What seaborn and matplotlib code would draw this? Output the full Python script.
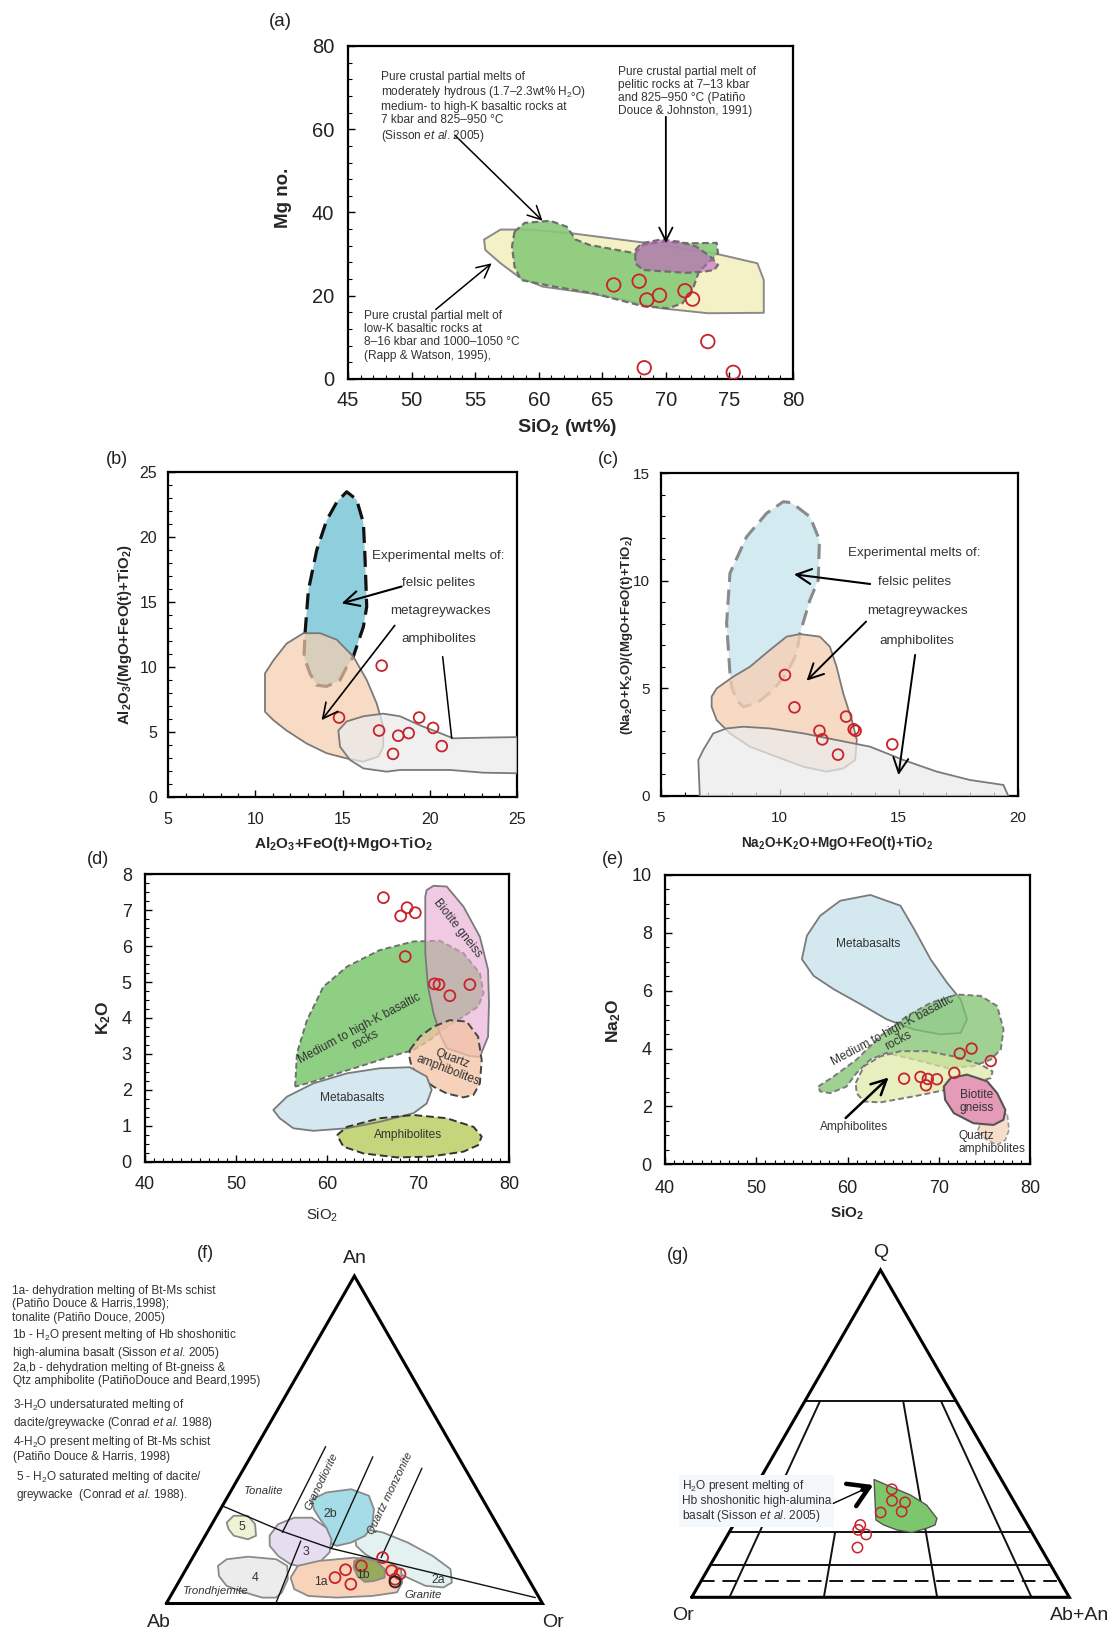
import numpy as np
import matplotlib
matplotlib.use("Agg")
import matplotlib.pyplot as plt
import seaborn as sns
from matplotlib.ticker import MultipleLocator

# ======================= DATA =======================
# (a) Mg no. vs SiO2
a_sio2 = [65.9, 67.9, 68.5, 69.5, 71.5, 72.1, 73.3, 68.3, 75.3]
a_mgno = [22.6, 23.5, 19.0, 20.1, 21.2, 19.2, 9.0, 2.7, 1.6]
a_lowk_x = [55.7, 57.0, 59.2, 62.6, 68.2, 73.8, 77.2, 77.7, 77.7, 73.3, 69.6, 66.8, 64.0, 60.3, 58.4, 57.0, 55.8]
a_lowk_y = [33.5, 35.9, 35.9, 35.0, 32.8, 30.2, 27.8, 23.8, 15.9, 15.8, 17.0, 19.0, 20.6, 22.2, 24.6, 27.8, 31.0]
a_medk_x = [58.1, 58.9, 60.9, 62.2, 62.9, 64.0, 67.6, 68.2, 69.6, 71.9, 74.0, 74.1, 73.3, 72.6, 72.1, 71.3,
            70.2, 68.2, 66.8, 64.3, 61.2, 58.6, 58.1, 57.9]
a_medk_y = [35.4, 37.5, 38.0, 36.6, 33.5, 32.2, 30.2, 32.2, 33.0, 32.6, 32.7, 30.2, 27.8, 25.8, 21.4, 18.2,
            17.0, 17.5, 18.6, 20.6, 22.2, 23.8, 27.0, 31.8]
a_pel_x = [67.6, 68.1, 69.6, 71.0, 72.4, 73.5, 74.1, 73.8, 73.0, 71.6, 68.2, 67.6]
a_pel_y = [31.0, 32.6, 33.5, 33.0, 31.8, 29.4, 27.4, 26.2, 25.8, 25.5, 26.2, 27.8]

# (b) Al2O3/(MgO+FeO+TiO2) vs Al2O3+FeO+MgO+TiO2
b_x = [17.25, 14.8, 17.1, 18.2, 18.8, 17.9, 19.4, 20.2, 20.7]
b_y = [10.1, 6.1, 5.1, 4.7, 4.9, 3.3, 6.1, 5.3, 3.9]
b_pel_x = [12.85, 13.04, 13.52, 14.09, 14.67, 15.24, 15.81, 16.2, 16.29, 16.39, 16.2, 15.62, 15.24, 14.86,
           14.09, 13.52, 13.13, 12.79]
b_pel_y = [12.6, 15.9, 19.0, 21.3, 22.7, 23.5, 22.9, 21.1, 18.5, 14.65, 13.1, 10.8, 10.0, 9.0, 8.5, 8.6, 9.5, 10.8]
b_grw_x = [10.55, 10.55, 11.03, 11.79, 12.75, 13.71, 14.67, 15.62, 16.39, 16.96, 17.34, 17.34, 17.06, 16.2,
           15.24, 14.09, 12.94, 11.79, 11.03]
b_grw_y = [6.55, 9.5, 10.5, 11.8, 12.6, 12.6, 12.1, 10.8, 9.0, 7.2, 5.4, 3.85, 3.1, 2.7, 2.95, 3.35, 4.1, 5.1, 5.9]
b_amp_x = [14.76, 15.24, 16.2, 17.34, 18.3, 19.45, 20.41, 21.36, 23.09, 25.3, 25.3, 23.09, 21.17, 18.3, 17.54,
           16.2, 15.43, 14.86]
b_amp_y = [5.1, 5.8, 6.2, 6.4, 6.2, 5.5, 5.0, 4.5, 4.55, 4.6, 1.8, 1.85, 2.06, 2.06, 1.93, 2.18, 2.83, 3.85]

# (c) (Na2O+K2O)/(MgO+FeO+TiO2) vs Na2O+K2O+MgO+FeO+TiO2
c_x = [10.22, 10.62, 11.67, 11.79, 12.79, 13.11, 13.19, 12.45, 14.73]
c_y = [5.62, 4.11, 3.02, 2.62, 3.68, 3.09, 3.02, 1.91, 2.39]
c_pel_x = [7.91, 7.77, 7.91, 8.61, 9.45, 10.15, 10.5, 11.27, 11.67, 11.62, 11.27, 10.85, 10.71, 10.29, 9.73,
           9.03, 8.47, 8.19, 7.98]
c_pel_y = [5.69, 8.02, 10.35, 12.05, 13.14, 13.68, 13.63, 12.98, 11.9, 10.04, 9.1, 7.55, 6.62, 5.69, 4.92,
           4.3, 4.14, 4.45, 5.07]
c_grw_x = [7.14, 7.35, 8.05, 8.75, 9.59, 10.29, 10.85, 11.69, 12.11, 12.39, 12.67, 13.03, 13.24, 13.17, 12.67,
           11.97, 10.99, 9.87, 8.75, 7.91, 7.35, 7.14]
c_grw_y = [4.61, 4.99, 5.54, 6.0, 6.78, 7.4, 7.52, 7.4, 6.93, 6.0, 4.76, 3.52, 2.59, 1.66, 1.27, 1.12, 1.35,
           1.81, 2.28, 2.9, 3.52, 4.14]
c_amp_x = [6.65, 6.58, 6.79, 7.21, 7.77, 8.47, 9.59, 10.99, 12.39, 13.8, 15.2, 16.6, 18.0, 19.4, 19.68]
c_amp_y = [-0.2, 1.66, 2.13, 2.9, 3.13, 3.21, 3.13, 2.9, 2.59, 2.28, 1.66, 1.12, 0.73, 0.5, -0.2]

# (d) K2O vs SiO2
d_x = [66.2, 68.1, 68.8, 69.7, 68.6, 71.8, 72.3, 73.5, 75.7]
d_y = [7.35, 6.84, 7.07, 6.93, 5.71, 4.95, 4.93, 4.62, 4.93]
d_medk_x = [56.5, 56.7, 57.8, 59.6, 62.2, 65.8, 69.5, 72.4, 75.0, 76.8, 77.2, 76.6, 75.0, 73.2, 71.3, 69.5,
            66.9, 64.7, 61.8, 58.5]
d_medk_y = [2.09, 3.02, 3.94, 4.87, 5.43, 5.89, 6.13, 6.15, 5.8, 5.24, 4.69, 4.32, 4.04, 3.76, 3.39, 3.11,
            2.92, 2.74, 2.51, 2.23]
d_bt_x = [70.95, 71.7, 73.15, 75.0, 76.8, 77.7, 77.8, 77.7, 76.8, 75.7, 73.15, 72.4, 71.7, 71.1, 70.8, 70.8, 70.8]
d_bt_y = [7.56, 7.68, 7.66, 7.1, 6.26, 5.34, 4.41, 3.48, 2.92, 2.94, 3.16, 3.57, 4.13, 4.87, 5.8, 6.73, 7.38]
d_qa_x = [69.1, 70.2, 71.7, 73.5, 75.35, 76.6, 77.0, 76.8, 76.1, 75.0, 73.15, 71.7, 70.2, 69.3, 69.05]
d_qa_y = [3.11, 3.48, 3.76, 3.94, 3.9, 3.48, 2.83, 2.18, 1.86, 1.79, 1.9, 2.09, 2.37, 2.64, 2.92]
d_mb_x = [54.1, 55.6, 58.5, 62.2, 65.8, 69.1, 70.95, 71.5, 70.95, 69.5, 65.8, 62.2, 58.5, 56.3, 54.8]
d_mb_y = [1.44, 1.81, 2.18, 2.46, 2.6, 2.63, 2.37, 2.0, 1.62, 1.35, 1.11, 0.93, 0.86, 0.93, 1.21]
d_amp_x = [61.1, 62.2, 65.8, 69.5, 73.15, 76.1, 77.0, 76.6, 75.0, 71.3, 67.7, 64.0, 61.8]
d_amp_y = [0.74, 0.97, 1.21, 1.3, 1.21, 0.97, 0.7, 0.46, 0.28, 0.14, 0.12, 0.23, 0.42]

# (e) Na2O vs SiO2
e_x = [66.2, 68.0, 68.8, 68.6, 69.8, 71.7, 72.3, 73.6, 75.7]
e_y = [2.96, 3.02, 2.95, 2.73, 2.94, 3.16, 3.83, 4.0, 3.57]
e_mb_x = [55.0, 55.55, 57.0, 59.2, 62.5, 65.8, 67.3, 69.1, 70.9, 72.4, 73.1, 72.4, 70.2, 67.3, 64.3, 61.8, 58.5, 56.3]
e_mb_y = [7.09, 7.9, 8.59, 9.11, 9.31, 8.94, 8.13, 7.09, 6.28, 5.7, 5.01, 4.54, 4.49, 4.66, 5.01, 5.47, 6.05, 6.51]
e_medk_x = [56.8, 58.5, 61.0, 63.6, 66.5, 69.1, 72.0, 74.6, 76.4, 77.1, 76.8, 75.7, 73.8, 70.9, 67.3, 64.3,
            62.5, 61.0, 59.9, 58.1, 57.0]
e_medk_y = [2.69, 3.04, 3.62, 4.43, 5.12, 5.58, 5.87, 5.82, 5.47, 4.66, 3.97, 3.62, 3.39, 3.33, 3.62, 3.85,
            3.62, 3.16, 2.69, 2.46, 2.52]
e_amp_x = [60.9, 61.8, 63.6, 65.8, 68.7, 71.65, 74.6, 75.9, 75.7, 73.8, 70.9, 67.3, 63.6, 61.8, 61.0]
e_amp_y = [2.81, 3.39, 3.73, 3.91, 3.91, 3.73, 3.45, 3.21, 2.98, 2.81, 2.58, 2.35, 2.14, 2.17, 2.46]
e_bt_x = [70.55, 71.3, 73.1, 75.3, 76.4, 77.3, 77.1, 76.0, 73.8, 71.65, 70.7]
e_bt_y = [2.69, 2.98, 3.1, 2.87, 2.46, 1.88, 1.54, 1.36, 1.42, 1.77, 2.23]
e_qa_x = [74.6, 76.4, 77.5, 77.7, 77.3, 76.4, 75.3, 74.2]
e_qa_y = [1.42, 1.54, 1.77, 1.19, 0.84, 0.67, 0.84, 1.13]

# (f) An-Ab-Or ternary (An %, Or %; Ab = remainder)
f_an = [14.0, 11.5, 10.3, 7.9, 5.9, 10.0, 9.0, 7.4]
f_or = [50.5, 46.1, 42.5, 40.9, 46.1, 54.9, 57.6, 57.1]
f_blk_an = [6.6]
f_blk_or = [57.5]
f5_an = [24.7, 26.8, 26.8, 24.2, 20.7, 19.6, 20.7, 22.7]
f5_or = [3.7, 4.5, 8.3, 11.5, 13.5, 11.9, 7.6, 5.2]
f4_an = [11.5, 13.5, 14.3, 13.5, 11.5, 7.4, 3.4, 1.8, 1.8, 3.4, 5.4, 8.4]
f4_or = [8.0, 9.3, 14.6, 22.5, 26.4, 28.6, 29.0, 28.3, 24.6, 19.1, 13.3, 9.8]
f3_an = [20.7, 24.2, 26.2, 26.2, 23.2, 19.6, 15.6, 12.5, 11.0, 12.0, 14.5, 17.6]
f3_or = [17.1, 17.6, 20.9, 25.6, 30.9, 34.1, 35.6, 34.4, 31.3, 27.0, 22.5, 18.7]
f2b_an = [31.8, 33.9, 34.9, 32.9, 28.8, 23.7, 20.7, 18.6, 17.6, 18.6, 23.2, 26.2, 28.8]
f2b_or = [22.8, 25.6, 31.7, 37.4, 40.8, 42.9, 42.5, 39.8, 36.5, 34.1, 30.9, 27.5, 24.8]
f2a_an = [20.7, 22.7, 21.7, 18.6, 14.5, 10.5, 6.4, 4.9, 5.4, 8.4, 12.0, 15.1, 17.6]
f2a_or = [39.7, 41.5, 46.7, 54.9, 63.6, 70.3, 72.7, 71.2, 66.2, 59.0, 51.5, 45.3, 41.7]
f1a_an = [7.9, 11.5, 13.0, 14.0, 12.5, 10.5, 6.4, 3.4, 2.3, 1.8, 2.3, 4.4]
f1a_or = [29.1, 29.2, 34.1, 43.0, 53.2, 57.1, 59.5, 59.6, 53.6, 44.4, 36.6, 31.8]
f1b_an = [13.0, 14.0, 13.0, 10.5, 7.9, 6.9, 6.6, 8.4, 11.0]
f1b_or = [43.5, 44.9, 49.2, 52.8, 54.1, 51.8, 49.5, 46.6, 44.3]
f_main_an = [29.8, 21.9, 16.8, 1.8]
f_main_or = [0.0, 20.2, 35.5, 97.2]
f_gd_an, f_gd_or = [47.9, 21.7], [18.4, 20.0]
f_tr_an, f_tr_or = [19.1, 0.0], [26.2, 29.1]
f_qm1_an, f_qm1_or = [44.8, 16.8], [32.5, 35.5]
f_qm2_an, f_qm2_or = [41.3, 14.0], [47.3, 50.1]

# (g) Q-Or-(Ab+An) ternary (Q %, Ab+An %)
g_q = [33.0, 29.5, 29.0, 26.2, 25.9, 22.1, 20.6, 19.2, 15.2]
g_abn = [36.5, 38.3, 42.0, 42.5, 37.1, 33.6, 33.8, 36.6, 36.3]
g_field_q = [36.0, 34.3, 31.3, 28.2, 24.1, 22.1, 21.1, 19.8, 20.6, 22.1, 23.6, 30.8]
g_field_abn = [30.3, 34.5, 42.2, 48.1, 52.9, 53.4, 51.7, 48.4, 44.0, 39.8, 37.0, 33.1]
g_q_levels = [60, 20, 10]
g_q_dashed = 5
g_ratio_from60 = [10, 65, 90]
g_ratio_from20 = [35]

# ======================= STYLE =======================
sns.set_theme(style="ticks")
plt.rcParams['font.family'] = ['Liberation Sans', 'DejaVu Sans']
plt.rcParams['mathtext.fontset'] = 'custom'
plt.rcParams['mathtext.rm'] = 'Liberation Sans'
plt.rcParams['mathtext.it'] = 'Liberation Sans:italic'
plt.rcParams['mathtext.bf'] = 'Liberation Sans:bold'
plt.rcParams['text.color'] = '#222222'

RED = '#c8232b'
W, H = 1113, 1629
fig = plt.figure(figsize=(W / 100, H / 100), dpi=100)
fig.patch.set_facecolor('white')


def axes_px(l, t, r, b):
    return fig.add_axes([l / W, 1 - b / H, (r - l) / W, (b - t) / H])


def ftext(x, y, s, **kw):
    fig.text(x / W, 1 - y / H, s, **kw)


def field(ax, xs, ys, fc, ec='#858585', ls='-', lw=1.3, alpha=1.0, z=2):
    ax.fill(xs, ys, facecolor=fc, alpha=alpha, edgecolor='none', zorder=z)
    ax.fill(xs, ys, facecolor='none', edgecolor=ec, linestyle=ls, linewidth=lw, zorder=z + 0.1,
            joinstyle='round')


def pts(ax, x, y, s, color=RED, lw=1.3):
    sns.scatterplot(x=x, y=y, ax=ax, s=s, color=color, linewidth=lw, zorder=6, legend=False)
    coll = ax.collections[-1]
    coll.set_facecolor('none')
    coll.set_edgecolor(color)
    coll.set_linewidth(lw)


def style_ax(ax, xlim, ylim, xmaj, xmin, ymaj, ymin, fs, xpad, ypad):
    ax.set_xlim(*xlim)
    ax.set_ylim(*ylim)
    ax.xaxis.set_major_locator(MultipleLocator(xmaj))
    ax.xaxis.set_minor_locator(MultipleLocator(xmin))
    ax.yaxis.set_major_locator(MultipleLocator(ymaj))
    ax.yaxis.set_minor_locator(MultipleLocator(ymin))
    ax.tick_params(which='both', direction='in', top=False, right=False, color='black',
                   labelcolor='#222222')
    ax.tick_params(axis='x', which='major', length=5, width=1.0, labelsize=fs, pad=xpad)
    ax.tick_params(axis='y', which='major', length=5, width=1.0, labelsize=fs, pad=ypad)
    ax.tick_params(which='minor', length=3, width=0.8)
    for sp in ax.spines.values():
        sp.set_visible(True)
        sp.set_color('black')
        sp.set_linewidth(1.6)
    ax.set_facecolor('white')


def labels(ax, xl, yl, xpos, ypos, fsx, fsy, wx='bold', wy='bold'):
    ax.set_xlabel(xl, fontsize=fsx, fontweight=wx)
    ax.set_ylabel(yl, fontsize=fsy, fontweight=wy)
    ax.xaxis.set_label_coords(*xpos)
    ax.xaxis.label.set_va('center')
    ax.yaxis.set_label_coords(*ypos)
    ax.yaxis.label.set_va('center')


def arrow(ax, xy0, xy1, lw=1.0, hl=0.6, hw=0.3, ms=14, style='->'):
    ax.annotate('', xy=xy1, xytext=xy0,
                arrowprops=dict(arrowstyle=f'{style},head_length={hl},head_width={hw}', lw=lw,
                                color='black', mutation_scale=ms, shrinkA=0, shrinkB=0), zorder=7)


ANN = dict(fontsize=8.6, color='#333333', linespacing=1.12, zorder=8)
TXT = dict(fontsize=9.6, color='#333333', zorder=8)
TXTs = dict(fontsize=8.6, color='#333333', zorder=8)

# ======================= (a) =======================
ax = axes_px(348, 46, 793, 379)
field(ax, a_lowk_x, a_lowk_y, '#f5f1c6', ec='#8a8a8a', lw=1.4, z=2)
field(ax, a_medk_x, a_medk_y, '#88c979', ec='#6f6f6f', ls=(0, (3, 1.6)), lw=1.6, alpha=0.9, z=3)
field(ax, a_pel_x, a_pel_y, '#c45ec4', ec='#6f6f6f', ls=(0, (3, 1.6)), lw=1.6, alpha=0.6, z=4)
pts(ax, a_sio2, a_mgno, s=95)
style_ax(ax, (45, 80), (0, 80), 5, 1, 20, 4, 14.5, 9, 10)
labels(ax, r'SiO$_\mathbf{2}$ (wt%)', 'Mg no.', (0.493, -0.147), (-0.146, 0.545), 14, 13.5)
ax.text(47.6, 74.0, 'Pure crustal partial melts of\nmoderately hydrous (1.7–2.3wt% H$_2$O)\n'
        'medium- to high-K basaltic rocks at\n7 kbar and 825–950 °C\n(Sisson $\\mathit{et\\ al}$. 2005)',
        ha='left', va='top', **ANN)
ax.text(66.2, 75.3, 'Pure crustal partial melt of\npelitic rocks at 7–13 kbar\nand 825–950 °C (Patiño\n'
        'Douce & Johnston, 1991)', ha='left', va='top', **ANN)
ax.text(46.25, 16.5, 'Pure crustal partial melt of\nlow-K basaltic rocks at\n8–16 kbar and 1000–1050 °C\n'
        '(Rapp & Watson, 1995),', ha='left', va='top', **ANN)
arrow(ax, (53.4, 58.6), (60.3, 38.0), lw=1.1, ms=16)
arrow(ax, (70.0, 63.0), (70.0, 32.7), lw=1.3, ms=16)
arrow(ax, (51.9, 16.7), (56.3, 27.8), lw=1.1, ms=16)
ftext(280, 21, '(a)', fontsize=13.5, ha='center', va='center')

# ======================= (b) =======================
ax = axes_px(168.3, 472.3, 516.7, 796.7)
field(ax, b_pel_x, b_pel_y, '#8fcfdd', ec='#111111', ls=(0, (5, 2.5)), lw=2.3, z=2)
field(ax, b_grw_x, b_grw_y, '#f6cdae', ec='#7a7a7a', lw=1.3, alpha=0.72, z=3)
field(ax, b_amp_x, b_amp_y, '#ebebeb', ec='#7a7a7a', lw=1.3, alpha=0.72, z=4)
pts(ax, b_x, b_y, s=60)
style_ax(ax, (5, 25), (0, 25), 5, 1, 5, 1, 11.5, 11, 8)
labels(ax, r'Al$_\mathbf{2}$O$_\mathbf{3}$+FeO(t)+MgO+TiO$_\mathbf{2}$',
       r'Al$_\mathbf{2}$O$_\mathbf{3}$/(MgO+FeO(t)+TiO$_\mathbf{2}$)',
       (0.501, -0.145), (-0.125, 0.5), 11, 10.8)
ax.text(16.67, 18.55, 'Experimental melts of:', ha='left', va='center', **TXT)
ax.text(18.4, 16.44, 'felsic pelites', ha='left', va='center', **TXT)
ax.text(17.73, 14.34, 'metagreywackes', ha='left', va='center', **TXT)
ax.text(18.4, 12.13, 'amphibolites', ha='left', va='center', **TXT)
arrow(ax, (18.4, 16.2), (14.95, 14.9), lw=1.5, ms=18)
arrow(ax, (18.0, 13.2), (13.8, 5.9), lw=1.2, ms=18)
ax.plot([20.75, 21.27], [10.79, 4.5], color='black', lw=1.1, zorder=7)
ftext(117, 460, '(b)', fontsize=13, ha='center', va='center')

# ======================= (c) =======================
ax = axes_px(660.7, 473.3, 1017.7, 795.7)
field(ax, c_pel_x, c_pel_y, '#d2eaf0', ec='#8a8a8a', ls=(0, (5, 2.5)), lw=2.2, z=2)
field(ax, c_grw_x, c_grw_y, '#f6d0b4', ec='#7a7a7a', lw=1.3, alpha=0.78, z=3)
field(ax, c_amp_x, c_amp_y, '#ebebeb', ec='#7a7a7a', lw=1.3, alpha=0.72, z=4)
pts(ax, c_x, c_y, s=60)
style_ax(ax, (5, 20), (0, 15), 5, 1, 5, 1, 11, 11, 7.5)
labels(ax, r'Na$_\mathbf{2}$O+K$_\mathbf{2}$O+MgO+FeO(t)+TiO$_\mathbf{2}$',
       r'(Na$_\mathbf{2}$O+K$_\mathbf{2}$O)/(MgO+FeO(t)+TiO$_\mathbf{2}$)',
       (0.4955, -0.146), (-0.0955, 0.5), 9.8, 9.5)
ax.text(12.86, 11.28, 'Experimental melts of:', ha='left', va='center', **TXT)
ax.text(14.15, 9.93, 'felsic pelites', ha='left', va='center', **TXT)
ax.text(13.66, 8.61, 'metagreywackes', ha='left', va='center', **TXT)
ax.text(14.19, 7.18, 'amphibolites', ha='left', va='center', **TXT)
arrow(ax, (13.8, 9.85), (10.6, 10.3), lw=1.5, ms=18)
arrow(ax, (13.63, 8.1), (11.13, 5.35), lw=1.4, ms=18)
arrow(ax, (15.69, 6.55), (14.99, 0.96), lw=1.4, ms=18)
ftext(608, 460, '(c)', fontsize=13, ha='center', va='center')

# ======================= (d) =======================
ax = axes_px(145, 874.3, 509, 1161.7)
field(ax, d_medk_x, d_medk_y, '#8fcf84', ec='#6f6f6f', ls=(0, (3, 1.6)), lw=1.4, z=2)
field(ax, d_bt_x, d_bt_y, '#e7a6cf', ec='#7a7a7a', lw=1.3, alpha=0.6, z=3)
field(ax, d_qa_x, d_qa_y, '#f4c4a4', ec='#444444', ls=(0, (4, 2)), lw=1.4, alpha=0.75, z=4)
field(ax, d_mb_x, d_mb_y, '#d6e8ef', ec='#7a7a7a', lw=1.3, z=5)
field(ax, d_amp_x, d_amp_y, '#c5d57c', ec='#333333', ls=(0, (4, 2)), lw=1.4, z=5)
pts(ax, d_x, d_y, s=62)
style_ax(ax, (40, 80), (0, 8), 10, 1, 1, 0.25, 13, 10, 9.5)
labels(ax, r'SiO$_2$', r'K$_\mathbf{2}$O', (0.486, -0.185), (-0.113, 0.5), 10.7, 12.5, wx='normal')
ax.text(74.3, 6.5, 'Biotite gneiss', rotation=-52, ha='center', va='center', **TXTs)
ax.text(63.9, 3.55, 'Medium to high-K basaltic\nrocks', rotation=28, ha='center', va='center',
        linespacing=1.0, **TXTs)
ax.text(73.5, 2.7, 'Quartz\namphibolites', rotation=-21, ha='center', va='center',
        linespacing=1.0, **TXTs)
ax.text(62.8, 1.76, 'Metabasalts', ha='center', va='center', **TXTs)
ax.text(68.9, 0.74, 'Amphibolites', ha='center', va='center', **TXTs)
ftext(98, 860, '(d)', fontsize=13, ha='center', va='center')

# ======================= (e) =======================
ax = axes_px(665, 875, 1030, 1164.3)
field(ax, e_mb_x, e_mb_y, '#d4e8ef', ec='#7a7a7a', lw=1.3, z=2)
field(ax, e_medk_x, e_medk_y, '#7fc46e', ec='#7a7a7a', ls=(0, (3, 1.6)), lw=1.4, alpha=0.75, z=3)
field(ax, e_amp_x, e_amp_y, '#dde9a4', ec='#7a7a7a', ls=(0, (3, 1.6)), lw=1.4, alpha=0.7, z=4)
field(ax, e_qa_x, e_qa_y, '#f6dccb', ec='#9a9a9a', ls=(0, (3, 1.6)), lw=1.2, z=4)
field(ax, e_bt_x, e_bt_y, '#e59ab8', ec='#555555', lw=1.5, z=5)
pts(ax, e_x, e_y, s=58)
style_ax(ax, (40, 80), (0, 10), 10, 1, 2, 0.5, 13, 11, 9.5)
labels(ax, r'SiO$_\mathbf{2}$', r'Na$_\mathbf{2}$O', (0.4986, -0.168), (-0.142, 0.497), 11, 12.5)
ax.text(62.3, 7.6, 'Metabasalts', ha='center', va='center', **TXTs)
ax.text(65.3, 4.45, 'Medium to high-K basaltic\nrocks', rotation=28, ha='center', va='center',
        linespacing=1.0, **TXTs)
ax.text(74.2, 2.17, 'Biotite\ngneiss', ha='center', va='center', linespacing=1.1, **TXTs)
ax.text(72.2, 0.75, 'Quartz\namphibolites', ha='left', va='center', linespacing=1.05, **TXTs)
ax.text(60.7, 1.3, 'Amphibolites', ha='center', va='center', **TXTs)
arrow(ax, (59.8, 1.6), (64.5, 3.0), lw=1.8, ms=18)
ftext(613, 860, '(e)', fontsize=13, ha='center', va='center')

# ======================= (f) ternary An-Ab-Or =======================


def tern_f(an, orr):
    an = np.asarray(an, float) / 100
    o = np.asarray(orr, float) / 100
    return o + an / 2, an


ax = axes_px(166.3, 1276, 542.5, 1603.5)
ax.set_xlim(0, 1)
ax.set_ylim(0, 1)
ax.axis('off')
fcol = [(f2a_an, f2a_or, '#e3f1f1'), (f2b_an, f2b_or, '#a6dbe8'), (f3_an, f3_or, '#e6def0'),
        (f4_an, f4_or, '#ececec'), (f5_an, f5_or, '#eef3d6'), (f1a_an, f1a_or, '#f7d3b9'),
        (f1b_an, f1b_or, '#98aa5c')]
for i, (an_, or_, c) in enumerate(fcol):
    xx, yy = tern_f(an_, or_)
    field(ax, xx, yy, c, ec='#8a8a8a', lw=1.3, z=2 + i * 0.2)
for an_, or_ in [(f_main_an, f_main_or), (f_gd_an, f_gd_or), (f_tr_an, f_tr_or),
                 (f_qm1_an, f_qm1_or), (f_qm2_an, f_qm2_or)]:
    xx, yy = tern_f(an_, or_)
    ax.plot(xx, yy, color='#111111', lw=1.0, zorder=4)
tx, ty = tern_f([0, 0, 100, 0], [0, 100, 0, 0])
ax.plot(tx, ty, color='black', lw=2.2, zorder=5, solid_joinstyle='miter', clip_on=False)
px_, py_ = tern_f(f_an, f_or)
pts(ax, px_, py_, s=62)
bx, by = tern_f(f_blk_an, f_blk_or)
pts(ax, bx, by, s=62, color='#222222')
SM = dict(fontsize=8.8, color='#333333', ha='center', va='center', zorder=8)
for s_, x_, y_ in [('5', 0.201, 0.234), ('4', 0.236, 0.079), ('3', 0.370, 0.158), ('2b', 0.436, 0.273),
                   ('1a', 0.412, 0.067), ('1b', 0.524, 0.086), ('2a', 0.724, 0.072)]:
    ax.text(x_, y_, s_, **SM)
IT = dict(fontsize=8.2, color='#333333', style='italic', ha='center', va='center', zorder=8)
ax.text(0.259, 0.342, 'Tonalite', **IT)
ax.text(0.412, 0.372, 'Granodiorite', rotation=64, **IT)
ax.text(0.596, 0.335, 'Quartz monzonite', rotation=64, **IT)
ax.text(0.132, 0.037, 'Trondhjemite', **IT)
ax.text(0.684, 0.025, 'Granite', **IT)
ax.text(0.5, 1.052, 'An', fontsize=14, ha='center', va='center')
ax.text(-0.02, -0.058, 'Ab', fontsize=14, ha='center', va='center')
ax.text(1.028, -0.058, 'Or', fontsize=14, ha='center', va='center')
ftext(205, 1254, '(f)', fontsize=13, ha='center', va='center')

LEG = dict(fontsize=8.5, color='#333333', ha='left', va='top', linespacing=1.14)
ftext(12, 1285, '1a- dehydration melting of Bt-Ms schist\n(Patiño Douce & Harris,1998);\n'
      'tonalite (Patiño Douce, 2005)', **LEG)
ftext(12, 1327, '1b - H$_2$O present melting of Hb shoshonitic\n'
      'high-alumina basalt (Sisson $\\mathit{et\\ al}$. 2005)', **LEG)
ftext(13, 1362, '2a,b - dehydration melting of Bt-gneiss &\nQtz amphibolite (PatiñoDouce and Beard,1995)', **LEG)
ftext(13, 1397, '3-H$_2$O undersaturated melting of\ndacite/greywacke (Conrad $\\mathit{et\\ al}$. 1988)', **LEG)
ftext(13, 1434, '4-H$_2$O present melting of Bt-Ms schist\n(Patiño Douce & Harris, 1998)', **LEG)
ftext(16, 1469, '5 - H$_2$O saturated melting of dacite/\ngreywacke  (Conrad $\\mathit{et\\ al}$. 1988).', **LEG)

# ======================= (g) ternary Q-Or-(Ab+An) =======================


def tern_g(q, abn):
    q = np.asarray(q, float) / 100
    a = np.asarray(abn, float) / 100
    return a + q / 2, q


ax = axes_px(691.7, 1270, 1069.3, 1597.3)
ax.set_xlim(0, 1)
ax.set_ylim(0, 1)
ax.axis('off')
for lv in g_q_levels:
    xx, yy = tern_g([lv, lv], [0, 100 - lv])
    ax.plot(xx, yy, color='#111111', lw=1.4, zorder=3)
xx, yy = tern_g([g_q_dashed, g_q_dashed], [0, 100 - g_q_dashed])
ax.plot(xx, yy, color='#111111', lw=1.4, ls=(0, (7, 4)), zorder=3)
for r in g_ratio_from60:
    xx, yy = tern_g([60, 0], [r / 100 * 40, r])
    ax.plot(xx, yy, color='#111111', lw=1.4, zorder=3)
for r in g_ratio_from20:
    xx, yy = tern_g([20, 0], [r / 100 * 80, r])
    ax.plot(xx, yy, color='#111111', lw=1.4, zorder=3)
tx, ty = tern_g([0, 0, 100, 0], [0, 100, 0, 0])
ax.plot(tx, ty, color='black', lw=2.2, zorder=5, solid_joinstyle='miter', clip_on=False)
gx, gy = tern_g(g_field_q, g_field_abn)
field(ax, gx, gy, '#7cc66c', ec='#555555', lw=1.0, z=4)
px_, py_ = tern_g(g_q, g_abn)
pts(ax, px_, py_, s=55, lw=1.1)
ax.text(-0.026, 0.365, 'H$_2$O present melting of\nHb shoshonitic high-alumina\n'
        'basalt (Sisson $\\mathit{et\\ al}$. 2005)', ha='left', va='top', fontsize=8.6, color='#333333',
        linespacing=1.12, zorder=9,
        bbox=dict(boxstyle='square,pad=0.25', facecolor='#f5f8fb', edgecolor='none'))
ax.plot([0.375, 0.47], [0.287, 0.337], color='black', lw=1.0, zorder=10)
ax.annotate('', xy=(0.481, 0.343), xytext=(0.452, 0.328),
            arrowprops=dict(arrowstyle='->,head_length=0.9,head_width=0.55', lw=3.2, color='black',
                            mutation_scale=16, shrinkA=0, shrinkB=0), zorder=10)
ax.text(0.5, 1.052, 'Q', fontsize=14, ha='center', va='center')
ax.text(-0.023, -0.055, 'Or', fontsize=14, ha='center', va='center')
ax.text(1.028, -0.055, 'Ab+An', fontsize=14, ha='center', va='center')
ftext(678, 1255, '(g)', fontsize=13, ha='center', va='center')

fig.savefig('out.png', dpi=100, facecolor='white')
